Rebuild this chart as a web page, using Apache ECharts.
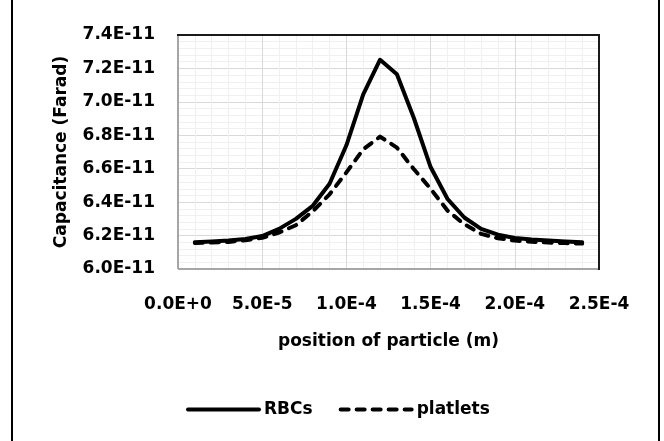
<!DOCTYPE html>
<html>
<head>
<meta charset="utf-8">
<style>
  html, body { margin: 0; padding: 0; background: #fff; }
  #chart { width: 664px; height: 441px; }
</style>
<script src="https://cdn.jsdelivr.net/npm/echarts@6/dist/echarts.min.js"></script>
</head>
<body>
<div id="chart"></div>
<script>
// position of particle, in units of 1E-5 m
var positions = [1, 2, 3, 4, 5, 6, 7, 8, 9, 10, 11, 12, 13, 14, 15, 16, 17, 18, 19, 20, 21, 22, 23, 24];
// capacitance, in units of 1E-11 F
var rbcs = [6.160, 6.165, 6.170, 6.180, 6.197, 6.240, 6.300, 6.378, 6.510, 6.740, 7.045, 7.252,
            7.165, 6.905, 6.610, 6.420, 6.308, 6.240, 6.205, 6.186, 6.176, 6.170, 6.165, 6.160];
var platlets = [6.156, 6.158, 6.162, 6.172, 6.187, 6.218, 6.262, 6.345, 6.447, 6.578, 6.716, 6.792,
                6.726, 6.598, 6.480, 6.350, 6.268, 6.210, 6.184, 6.170, 6.163, 6.158, 6.155, 6.152];
var seriesNames = ['RBCs', 'platlets'];

function pairs(ys) {
    var out = [];
    for (var i = 0; i < positions.length; i++) {
        out.push([positions[i], ys[i]]);
    }
    return out;
}

var W = 664, H = 441;
var G = { left: 178, top: 35, right: 65, bottom: 172 };
var font = 'DejaVu Sans';
var textStyle = { color: '#000', fontFamily: font, fontWeight: 'bold', fontSize: 17 };

var chart = echarts.init(document.getElementById('chart'), null, { renderer: 'canvas' });
var gx1 = G.left, gy1 = G.top, gx2 = W - G.right, gy2 = H - G.bottom;
var option = {
    animation: false,
    backgroundColor: '#fff',
    grid: { left: G.left, top: G.top, right: G.right, bottom: G.bottom },
    legend: {
        left: 181,
        top: 396,
        itemWidth: 71,
        itemHeight: 14,
        itemGap: 26,
        textStyle: textStyle,
        itemStyle: { opacity: 0 },
        lineStyle: { width: 4 },
        data: seriesNames
    },
    xAxis: {
        type: 'value',
        min: 0,
        max: 25,
        interval: 5,
        name: 'position of particle (m)',
        nameLocation: 'middle',
        nameGap: 64,
        nameTextStyle: textStyle,
        axisLine: { show: false },
        axisTick: { show: false },
        axisLabel: {
            margin: 27,
            color: '#000',
            fontFamily: font,
            fontWeight: 'bold',
            fontSize: 17,
            formatter: function (v) {
                if (v === 0) return '0.0E+0';
                return (v * 1e-5).toExponential(1).toUpperCase();
            }
        },
        splitLine: { show: true, lineStyle: { color: '#d9d9d9', width: 1 } },
        minorTick: { show: false, splitNumber: 5 },
        minorSplitLine: { show: true, lineStyle: { color: '#f0f0f0', width: 1 } }
    },
    yAxis: {
        type: 'value',
        min: 6.0,
        max: 7.4,
        interval: 0.2,
        name: 'Capacitance (Farad)',
        nameLocation: 'middle',
        nameGap: 108,
        nameTextStyle: textStyle,
        axisLine: { show: false },
        axisTick: { show: false },
        axisLabel: {
            margin: 23,
            color: '#000',
            fontFamily: font,
            fontWeight: 'bold',
            fontSize: 17,
            formatter: function (v) {
                return v.toFixed(1) + 'E-11';
            }
        },
        splitLine: { show: true, lineStyle: { color: '#d9d9d9', width: 1 } },
        minorTick: { show: false, splitNumber: 5 },
        minorSplitLine: { show: true, lineStyle: { color: '#f0f0f0', width: 1 } }
    },
    graphic: [
        // outer chart frame (left and right edges)
        { type: 'line', shape: { x1: 12, y1: 0, x2: 12, y2: H }, style: { stroke: '#000', lineWidth: 2 } },
        { type: 'line', shape: { x1: 659, y1: 0, x2: 659, y2: H }, style: { stroke: '#000', lineWidth: 2 } },
        // plot area border
        { type: 'polyline', z: 10, shape: { points: [[gx1, gy2], [gx1, gy1]] }, style: { stroke: '#a6a6a6', lineWidth: 2, fill: null } },
        { type: 'polyline', z: 10, shape: { points: [[gx1, gy2], [gx2, gy2]] }, style: { stroke: '#a6a6a6', lineWidth: 2, fill: null } },
        { type: 'polyline', z: 10, shape: { points: [[gx1 - 1, gy1], [gx2, gy1], [gx2, gy2 + 1]] }, style: { stroke: '#1a1a1a', lineWidth: 2, fill: null } }
    ],
    series: [
        {
            name: seriesNames[0],
            type: 'line',
            symbol: 'none',
            lineStyle: { color: '#000', width: 4, cap: 'round', join: 'round' },
            itemStyle: { color: '#000' },
            data: pairs(rbcs)
        },
        {
            name: seriesNames[1],
            type: 'line',
            symbol: 'none',
            lineStyle: { color: '#000', width: 4, type: [8, 8], cap: 'round', join: 'round' },
            itemStyle: { color: '#000' },
            data: pairs(platlets)
        }
    ]
};
chart.setOption(option);
</script>
</body>
</html>
